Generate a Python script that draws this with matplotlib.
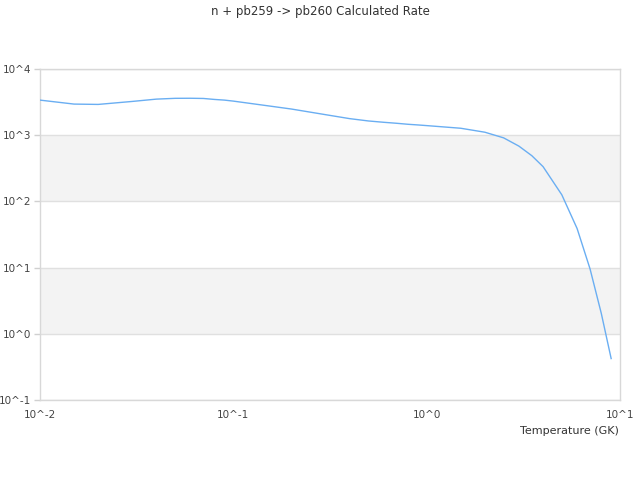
import matplotlib
matplotlib.use("Agg")
import matplotlib.pyplot as plt
import numpy as np

title = "n + pb259 -> pb260 Calculated Rate"
xlabel = "Temperature (GK)"
temps = [0.01, 0.015, 0.02, 0.03, 0.04, 0.05, 0.06, 0.07, 0.08, 0.09, 0.1,
         0.15, 0.2, 0.3, 0.4, 0.5, 0.6, 0.7, 0.8, 0.9, 1.0,
         1.5, 2.0, 2.5, 3.0, 3.5, 4.0, 5.0, 6.0, 7.0, 8.0, 9.0]
log_rates = [3.53, 3.47, 3.465, 3.51, 3.545, 3.557, 3.558, 3.555, 3.54, 3.53, 3.515,
             3.445, 3.395, 3.31, 3.25, 3.215, 3.195, 3.18, 3.165, 3.155, 3.145,
             3.105, 3.045, 2.96, 2.835, 2.69, 2.525, 2.10, 1.59, 0.98, 0.31, -0.374]
rates = [10 ** v for v in log_rates]
xticks = [0.01, 0.1, 1, 10]
xtick_labels = ["10^-2", "10^-1", "10^0", "10^1"]
yticks = [0.1, 1, 10, 100, 1000, 10000]
ytick_labels = ["10^-1", "10^0", "10^1", "10^2", "10^3", "10^4"]
bands = [(1, 10), (100, 1000)]

plt.rcParams['font.family'] = ['DejaVu Sans']
fig = plt.figure(figsize=(6.4, 4.8), dpi=100)
ax = fig.add_axes([40/640, 1-400/480, 580/640, 331/480])
ax.set_xscale('log')
ax.set_yscale('log')
ax.set_xlim(0.01, 10)
ax.set_ylim(0.1, 10000)

for lo, hi in bands:
    ax.axhspan(lo, hi, color='#f3f3f3', zorder=0, lw=0)
for y in yticks:
    ax.axhline(y, color='#e0e0e0', lw=1, zorder=1)

ax.plot(temps, rates, color='#6aaef2', lw=1, zorder=3)

ax.set_xticks(xticks)
ax.set_xticklabels(xtick_labels)
ax.set_yticks(yticks)
ax.set_yticklabels(ytick_labels)
ax.minorticks_off()
ax.tick_params(axis='x', length=0, pad=7, labelsize=7.5, labelcolor='#444444')
ax.tick_params(axis='y', length=4, width=1, color='#d0d0d0', pad=2.5, labelsize=7.5, labelcolor='#444444')
for s in ax.spines.values():
    s.set_color('#d8d8d8')
    s.set_linewidth(1)

fig.text(320/640, 1-12/480, title, ha='center', va='center', fontsize=8.5, color='#333333')
fig.text(619/640, 1-431/480, xlabel, ha='right', va='center', fontsize=8, color='#333333')

fig.savefig("out.png", dpi=100)
